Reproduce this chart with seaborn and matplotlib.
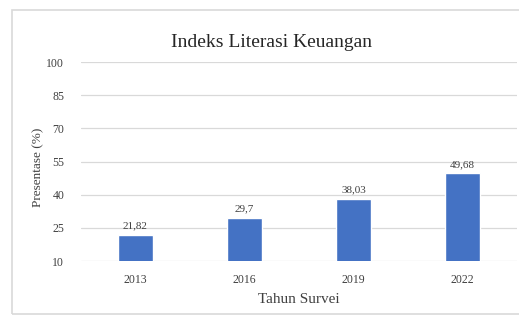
import pandas as pd
import matplotlib.pyplot as plt
import seaborn as sns
from matplotlib.patches import Rectangle

# data
tahun = ["2013", "2016", "2019", "2022"]
indeks = [21.82, 29.7, 38.03, 49.68]
label_nilai = ["21,82", "29,7", "38,03", "49,68"]
y_ticks = [10, 25, 40, 55, 70, 85, 100]

df = pd.DataFrame({"Tahun": tahun, "Indeks": indeks})

sns.set_style("white")
plt.rcParams['font.family'] = ['Liberation Serif', 'DejaVu Serif']

fig = plt.figure(figsize=(5.19, 3.18), dpi=100)
ax = fig.add_axes([0.156, 0.179, 0.84, 0.626])

sns.barplot(x="Tahun", y="Indeks", data=df, color="#4472C4", width=0.32,
            saturation=1, ax=ax, zorder=3)

#value labels on top of bars
for i, v in enumerate(indeks):
    ax.text(i, v + 2, label_nilai[i], ha="center", va="bottom",
            fontsize=8, color="#404040")

ax.set_ylim(10, 100)
ax.set_xlim(-0.5, 3.5)
ax.set_yticks(y_ticks)
ax.yaxis.grid(True, color="#D9D9D9", linewidth=0.9, zorder=0)
ax.tick_params(axis="both", length=0, labelsize=8.5, labelcolor="#404040")
ax.tick_params(axis="y", pad=12)
ax.tick_params(axis="x", pad=9)
for s in ax.spines.values():
    s.set_visible(False)

ax.set_title("Indeks Literasi Keuangan", fontsize=14, color="#262626",
             pad=11, x=0.438)
ax.set_xlabel("Tahun Survei", fontsize=11, color="#404040", labelpad=5)
ax.set_ylabel("Presentase (%)", fontsize=9.5, color="#404040")
ax.yaxis.set_label_coords(-0.085, 0.47)

# outer chart border
fig.patches.append(Rectangle((11.5 / 519, 4 / 318), 1.1, 304 / 318,
                             transform=fig.transFigure, fill=False,
                             edgecolor="#D9D9D9", linewidth=1.2))

fig.savefig("out.png", dpi=100)
